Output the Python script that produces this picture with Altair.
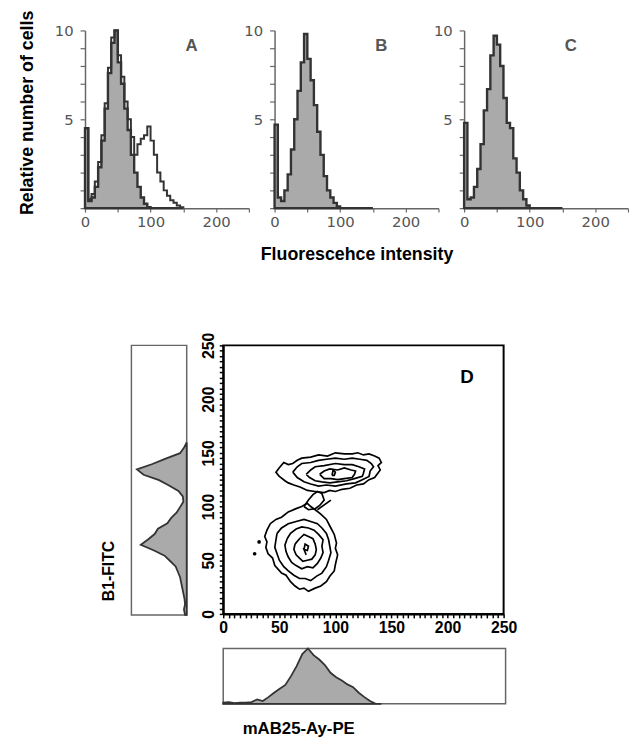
import altair as alt
import pandas as pd

# ---------------- top histograms (panels A, B, C) ----------------
BIN_START = [0, 5, 10, 15, 20, 25, 30, 35, 40, 45, 50, 55, 60, 65, 70, 75, 80, 85, 90, 95,
             100, 105, 110, 115, 120, 125, 130, 135, 140, 145, 150]

A_CONTROL = [4.5, 0.4, 0.6, 1.2, 2.3, 3.8, 5.6, 7.6, 9.3, 10.0, 8.2, 7.0, 5.6, 4.4, 3.0, 2.0,
             1.2, 0.6, 0.25, 0.05, 0, 0, 0, 0, 0, 0, 0, 0, 0, 0, 0]
A_SAMPLE = [4.5, 0.5, 0.8, 1.5, 2.6, 4.1, 5.9, 7.9, 9.6, 10.0, 8.6, 7.4, 6.0, 5.0, 4.0, 3.0,
            3.6, 3.9, 4.1, 4.6, 3.8, 3.0, 2.0, 1.5, 1.0, 0.7, 0.45, 0.3, 0.15, 0.05, 0]
B_CONTROL = [4.7, 0.6, 0.4, 1.0, 1.9, 3.3, 5.0, 6.6, 8.2, 9.8, 8.4, 7.2, 5.8, 4.3, 3.0, 1.8,
             1.0, 0.6, 0.3, 0.1, 0, 0, 0, 0, 0, 0, 0, 0, 0, 0, 0]
C_CONTROL = [4.8, 0.5, 0.6, 1.2, 2.2, 3.6, 5.5, 6.7, 8.6, 9.7, 9.2, 8.0, 6.2, 4.8, 4.5, 2.8,
             2.0, 1.0, 0.5, 0.15, 0, 0, 0, 0, 0, 0, 0, 0, 0, 0, 0]

TOP_Y_TICKS = [0, 1, 2, 3, 4, 5, 6, 7, 8, 9, 10]
TOP_X_TICKS = [0, 50, 100, 150, 200, 250]

# ---------------- side histograms of panel D ----------------
FITC_BINS = [0, 5, 10, 15, 20, 25, 30, 35, 40, 45, 50, 55, 60, 65, 70, 75, 80, 85, 90, 95,
             100, 105, 110, 115, 120, 125, 130, 135, 140, 145, 150, 155, 160]
FITC_COUNTS = [0.03, 0.05, 0.03, 0.04, 0.06, 0.08, 0.1, 0.12, 0.16, 0.2, 0.3, 0.4, 0.6, 0.83,
               0.7, 0.58, 0.52, 0.35, 0.28, 0.18, 0.12, 0.06, 0.07, 0.15, 0.32, 0.5, 0.78, 0.9,
               0.62, 0.38, 0.12, 0.05, 0.0]
MAB_BINS = [0, 5, 10, 15, 20, 25, 30, 35, 40, 45, 50, 55, 60, 65, 70, 75, 80, 85, 90, 95,
            100, 105, 110, 115, 120, 125, 130, 135, 140]
MAB_COUNTS = [0.02, 0.03, 0.01, 0.02, 0.02, 0.03, 0.08, 0.05, 0.12, 0.2, 0.27, 0.34, 0.5, 0.68,
              0.9, 1.0, 0.88, 0.8, 0.7, 0.56, 0.48, 0.42, 0.35, 0.3, 0.2, 0.12, 0.05, 0.0, 0.0]

# ---------------- contour lines of panel D ----------------
UPPER_1_X = [50, 47, 50, 54, 58, 62, 66, 70, 78, 85, 93, 100, 108, 115, 120, 125, 130, 135, 139, 141, 138, 140, 135, 130, 125, 119, 113, 106, 100, 95, 90, 82, 75, 69, 63, 58, 55, 50]
UPPER_1_Y = [128, 132, 136, 141, 139, 140, 143, 145, 146, 148, 147, 150, 149, 149, 150, 148, 149, 147, 145, 141, 138, 134, 127, 125, 121, 120, 117, 116, 114, 115, 113, 114, 115, 118, 120, 122, 124, 128]
UPPER_2_X = [62, 66, 70, 78, 85, 92, 100, 108, 115, 122, 128, 132, 134, 131, 130, 124, 118, 110, 100, 92, 85, 78, 72, 66, 62]
UPPER_2_Y = [132, 137, 140, 141, 143, 144, 145, 144, 145, 144, 143, 140, 137, 133, 128, 125, 122, 121, 119, 120, 119, 121, 123, 127, 132]
UPPER_3_X = [74, 78, 82, 90, 100, 108, 115, 121, 126, 125, 124, 117, 110, 102, 95, 88, 82, 77, 74]
UPPER_3_Y = [130, 134, 137, 138, 140, 139, 139, 137, 135, 131, 128, 126, 124, 123, 122, 123, 124, 127, 130]
UPPER_4_X = [86, 90, 95, 102, 108, 114, 118, 117, 115, 108, 102, 96, 90, 86]
UPPER_4_Y = [130, 133, 135, 134, 136, 134, 133, 130, 127, 126, 125, 126, 126, 130]
UPPER_5_X = [97, 98, 100, 99, 97]
UPPER_5_Y = [129, 134, 132, 129, 129]
BRIDGE_X = [72, 76, 80, 84, 88, 90, 86, 82, 76, 72]
BRIDGE_Y = [100, 106, 111, 114, 112, 106, 101, 98, 97, 100]
STRAY_X = [84, 96]
STRAY_Y = [97, 106]
LOWER_1_X = [42, 39, 37, 39, 38, 40, 44, 46, 52, 56, 60, 64, 68, 72, 76, 82, 87, 92, 95, 99, 100, 102, 100, 101, 99, 96, 92, 87, 82, 78, 75, 70, 65, 58, 52, 47, 42]
LOWER_1_Y = [84, 78, 72, 67, 62, 56, 52, 45, 38, 36, 30, 26, 23, 24, 21, 24, 26, 30, 35, 40, 46, 55, 61, 66, 74, 80, 88, 93, 97, 100, 103, 100, 98, 95, 90, 88, 84]
LOWER_2_X = [48, 47, 46, 48, 50, 54, 58, 63, 68, 73, 78, 83, 88, 92, 94, 96, 95, 94, 92, 88, 84, 78, 72, 65, 58, 52, 48]
LOWER_2_Y = [75, 69, 62, 56, 50, 44, 40, 36, 33, 33, 31, 35, 38, 44, 50, 57, 63, 69, 75, 80, 84, 86, 88, 86, 84, 80, 75]
LOWER_3_X = [57, 55, 56, 58, 61, 65, 70, 75, 80, 84, 87, 89, 88, 89, 85, 81, 76, 70, 65, 60, 57]
LOWER_3_Y = [70, 64, 58, 53, 48, 45, 42, 44, 43, 47, 52, 57, 63, 69, 74, 78, 80, 81, 79, 75, 70]
LOWER_4_X = [64, 63, 65, 68, 71, 75, 79, 82, 83, 82, 80, 76, 72, 68, 64]
LOWER_4_Y = [65, 60, 55, 52, 49, 50, 51, 55, 60, 65, 70, 72, 74, 70, 65]
LOWER_5_X = [72, 73, 76, 75, 72, 74]
LOWER_5_Y = [60, 65, 63, 59, 60, 55]
SPECK_X = [32, 28]
SPECK_Y = [67, 56]

D_TICKS = [v for v in range(0, 251, 5)]

CONTOURS = [
    (UPPER_1_X, UPPER_1_Y), (UPPER_2_X, UPPER_2_Y), (UPPER_3_X, UPPER_3_Y),
    (UPPER_4_X, UPPER_4_Y), (UPPER_5_X, UPPER_5_Y), (BRIDGE_X, BRIDGE_Y),
    (STRAY_X, STRAY_Y), (LOWER_1_X, LOWER_1_Y), (LOWER_2_X, LOWER_2_Y),
    (LOWER_3_X, LOWER_3_Y), (LOWER_4_X, LOWER_4_Y), (LOWER_5_X, LOWER_5_Y),
]

rows = []
for cid, (xs, ys) in enumerate(CONTOURS):
    for i, (xv, yv) in enumerate(zip(xs, ys)):
        rows.append({"cid": cid, "ord": i, "x": xv, "y": yv, "kind": "line"})
for xv, yv in zip(SPECK_X, SPECK_Y):
    rows.append({"cid": -1, "ord": 0, "x": xv, "y": yv, "kind": "speck"})
d_df = pd.DataFrame(rows)

BOLD = "Liberation Sans"
GREY_FONT = "DejaVu Sans"
FILL = "#aaaaaa"
EDGE = "#333333"


def top_panel(values, letter, sample=None, ytitle=None, xtitle=None):
    rows = [{"ch": c, "n": v, "s": "control"} for c, v in zip(BIN_START, values)]
    if sample is not None:
        rows += [{"ch": c, "n": v, "s": "sample"} for c, v in zip(BIN_START, sample)]
    df = pd.DataFrame(rows)
    y_kw = dict(values=TOP_Y_TICKS, grid=False,
                labelExpr="datum.value == 5 || datum.value == 10 ? datum.label : ''",
                labelOverlap=False, labelFlush=False,
                tickSize=5, tickColor="#666", tickWidth=1.2,
                domainColor="#666", domainWidth=1.5,
                labelFont=GREY_FONT, labelFontSize=15, labelColor="#555", labelPadding=7)
    if ytitle:
        y_kw.update(title=ytitle, titleFont=BOLD, titleFontWeight="bold", titleFontSize=18,
                    titleColor="black", titlePadding=18, titleY=83)
    else:
        y_kw.update(title=None)
    x_kw = dict(values=TOP_X_TICKS, grid=False,
                labelExpr="datum.value % 100 == 0 ? datum.label : ''",
                labelOverlap=False, labelFlush=False,
                tickSize=4, tickColor="#666", tickWidth=1.2,
                domainColor="#666", domainWidth=1.5,
                labelFont=GREY_FONT, labelFontSize=15, labelColor="#555", labelPadding=3)
    if xtitle:
        x_kw.update(title=xtitle, titleFont=BOLD, titleFontWeight="bold", titleFontSize=18,
                    titleColor="black", titlePadding=16)
    else:
        x_kw.update(title=None)
    xs = alt.Scale(domain=[0, 250], nice=False)
    ys = alt.Scale(domain=[0, 10], nice=False)
    x_enc = alt.X("ch:Q", scale=xs, axis=alt.Axis(**x_kw))
    y_enc = alt.Y("n:Q", scale=ys, axis=alt.Axis(**y_kw))
    base = alt.Chart(df).encode(x=x_enc, y=y_enc)
    area = base.transform_filter("datum.s == 'control'").mark_area(
        interpolate="step-after", color=FILL, stroke=EDGE, strokeWidth=2.4)
    layers = [area]
    if sample is not None:
        layers.append(base.transform_filter("datum.s == 'sample'").mark_line(
            interpolate="step-after", color=EDGE, strokeWidth=2))
    txt = alt.Chart(pd.DataFrame({"t": [letter]})).mark_text(
        font=BOLD, fontWeight="bold", fontSize=17, color="#555").encode(
        text="t:N", x=alt.value(108), y=alt.value(16))
    layers.append(txt)
    return alt.layer(*layers).properties(width=166, height=180)


pa = top_panel(A_CONTROL, "A", sample=A_SAMPLE, ytitle="Relative number of cells")
pb = top_panel(B_CONTROL, "B", xtitle="Fluorescehce intensity")
pc = top_panel(C_CONTROL, "C")

# ---------------- panel D ----------------
d_scale = alt.Scale(domain=[0, 250], nice=False)
d_common = dict(values=D_TICKS, grid=False, title=None,
                labelExpr="datum.value % 50 == 0 ? datum.label : ''",
                labelOverlap=False, labelFlush=False,
                tickSize=4, tickColor="black", tickWidth=1.5,
                domainColor="black", domainWidth=2,
                labelFont=BOLD, labelFontWeight="bold", labelFontSize=16, labelColor="black")
d_base = alt.Chart(d_df).encode(
    x=alt.X("x:Q", scale=d_scale, axis=alt.Axis(labelPadding=2, **d_common)),
    y=alt.Y("y:Q", scale=d_scale, axis=alt.Axis(labelPadding=3, labelAngle=270,
                                                labelAlign="center", labelBaseline="bottom",
                                                **d_common)),
)
d_lines = d_base.transform_filter("datum.kind == 'line'").mark_line(
    color="black", strokeWidth=1.7).encode(detail="cid:N", order="ord:Q")
d_specks = d_base.transform_filter("datum.kind == 'speck'").mark_point(
    filled=True, color="black", size=14, opacity=1)
d_letter = alt.Chart(pd.DataFrame({"t": ["D"]})).mark_text(
    font=BOLD, fontWeight="bold", fontSize=19, color="black").encode(
    text="t:N", x=alt.value(247), y=alt.value(32))
d_chart = alt.layer(d_lines, d_specks, d_letter).properties(
    width=284, height=272, view=alt.ViewBackground(stroke="black", strokeWidth=2))

# left histogram (B1-FITC)
fitc_df = pd.DataFrame({"v": FITC_BINS, "c": FITC_COUNTS})
left_hist = alt.Chart(fitc_df).mark_area(orient="horizontal", interpolate="linear", color=FILL,
                                         stroke=EDGE, strokeWidth=1.8).encode(
    y=alt.Y("v:Q", scale=alt.Scale(domain=[0, 250], nice=False),
            axis=alt.Axis(labels=False, ticks=False, domain=False, grid=False,
                          title="B1-FITC", titleFont=BOLD, titleFontWeight="bold",
                          titleFontSize=16, titleColor="black", titlePadding=15, titleY=228)),
    x=alt.X("c:Q", scale=alt.Scale(domain=[0, 1], reverse=True, nice=False), axis=None),
).properties(width=56, height=273, view=alt.ViewBackground(stroke="#666", strokeWidth=1.5))

# bottom histogram (mAB25-Ay-PE)
mab_df = pd.DataFrame({"v": MAB_BINS, "c": MAB_COUNTS})
bottom_hist = alt.Chart(mab_df).mark_area(interpolate="linear", color=FILL, stroke=EDGE,
                                          strokeWidth=1.8).encode(
    x=alt.X("v:Q", scale=alt.Scale(domain=[0, 250], nice=False),
            axis=alt.Axis(labels=False, ticks=False, domain=False, grid=False,
                          title="mAB25-Ay-PE", titleFont=BOLD, titleFontWeight="bold",
                          titleFontSize=17, titleColor="black", titleX=76, titleY=25,
                          titleAlign="center", titleBaseline="middle")),
    y=alt.Y("c:Q", scale=alt.Scale(domain=[0, 1], nice=False), axis=None),
).properties(width=286, height=56, view=alt.ViewBackground(stroke="#666", strokeWidth=1.5))

spacer = alt.Chart(pd.DataFrame({"s": [0]})).mark_point(opacity=0).encode(
    x=alt.value(0), y=alt.value(0)).properties(width=10, height=10)

top_row = alt.hconcat(pa, pb, pc, spacing=26, bounds="flush")
right_col = alt.vconcat(d_chart, bottom_hist, spacing=35, bounds="flush")
bottom_row = alt.hconcat(spacer, left_hist, right_col, spacing=37, bounds="flush")

# nested concat groups count as zero height in a flush layout, so the gap includes the
# 180px height of the top row
chart = alt.vconcat(top_row, bottom_row, spacing=319, bounds="flush").properties(
    padding={"left": 10, "top": -3, "right": 0, "bottom": 0},
    background="white",
).configure_view(strokeWidth=0)

chart.save("out.html", embed_options={"renderer": "svg", "actions": False})
